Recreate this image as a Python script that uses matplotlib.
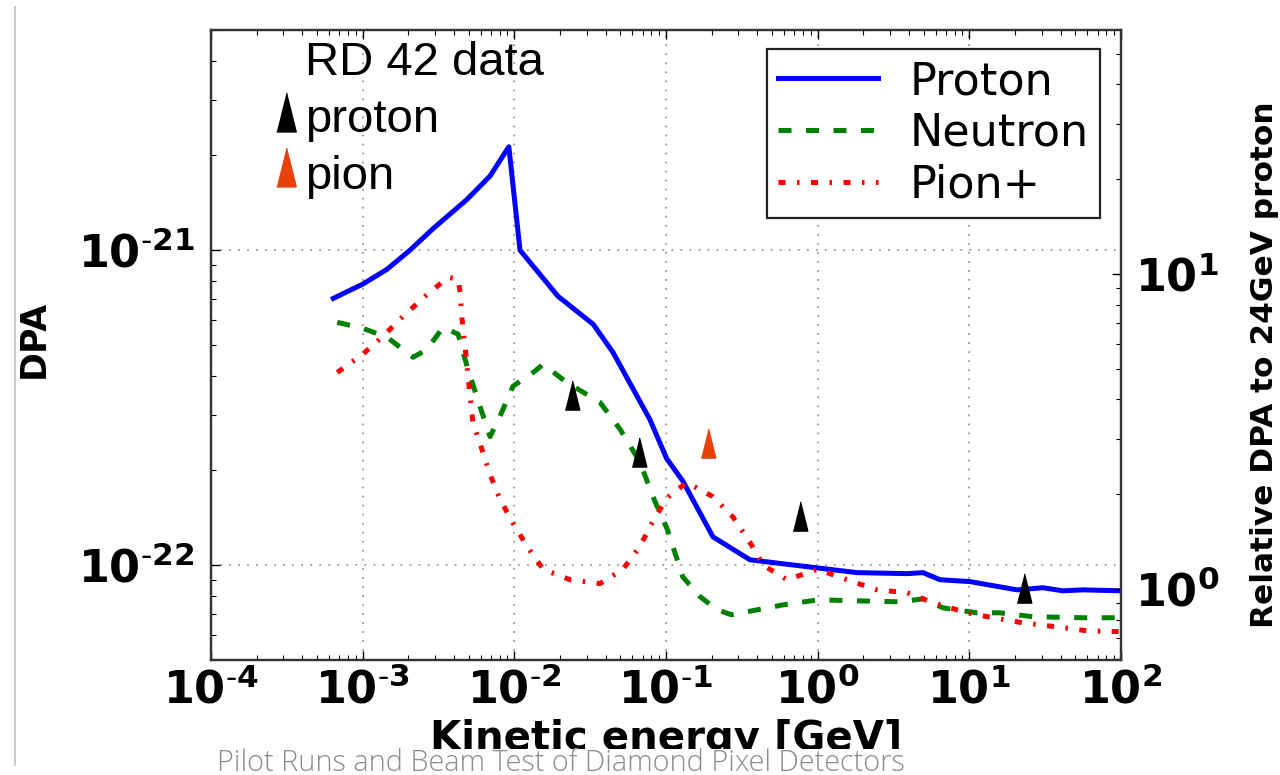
import numpy as np
import matplotlib
matplotlib.use('Agg')
import matplotlib.pyplot as plt
from matplotlib.lines import Line2D
from matplotlib.patches import Rectangle
from matplotlib.ticker import FuncFormatter, LogLocator

plt.rcParams['mathtext.fontset'] = 'dejavusans'
plt.rcParams['xtick.direction'] = 'in'
plt.rcParams['ytick.direction'] = 'in'

# kinetic energy [GeV] vs displacements per atom, per particle type
proton_e = [6.4e-4, 1.0e-3, 1.45e-3, 2.05e-3, 2.91e-3, 4.88e-3, 6.92e-3, 9.2e-3, 1.09e-2,
            1.94e-2, 3.31e-2, 4.47e-2, 7.83e-2, 0.101, 0.129, 0.204, 0.358, 1.0, 1.82,
            3.88, 4.95, 6.41, 10.1, 20.6, 30.6, 41.4, 56.1, 100.0]
proton_dpa = [7.03e-22, 7.8e-22, 8.7e-22, 1.0e-21, 1.17e-21, 1.45e-21, 1.72e-21, 2.13e-21, 1.0e-21,
              7.14e-22, 5.82e-22, 4.74e-22, 2.90e-22, 2.18e-22, 1.85e-22, 1.23e-22, 1.04e-22, 9.8e-23,
              9.47e-23, 9.4e-23, 9.47e-23, 8.99e-23, 8.87e-23, 8.35e-23, 8.48e-23, 8.29e-23, 8.35e-23,
              8.29e-23]

neutron_e = [6.8e-4, 1.0e-3, 1.45e-3, 2.15e-3, 2.65e-3, 3.39e-3, 4.26e-3, 4.88e-3,
             5.94e-3, 6.92e-3, 8.04e-3, 9.8e-3, 1.33e-2, 1.55e-2, 2.22e-2, 3.67e-2,
             4.98e-2, 6.75e-2, 8.2e-2, 0.102, 0.129, 0.168, 0.217, 0.27, 0.59, 1.0,
             3.49, 4.95, 6.7, 11.2, 15.9, 26.3, 56.1, 100.0]
neutron_dpa = [5.90e-22, 5.65e-22, 5.29e-22, 4.57e-22, 4.84e-22, 5.69e-22, 5.41e-22, 4.28e-22,
               3.19e-22, 2.56e-22, 2.97e-22, 3.70e-22, 4.09e-22, 4.34e-22, 3.80e-22, 3.29e-22,
               2.70e-22, 2.12e-22, 1.65e-22, 1.30e-22, 9.18e-23, 7.94e-23, 7.22e-23, 6.96e-23,
               7.48e-23, 7.76e-23, 7.65e-23, 7.82e-23, 7.32e-23, 7.06e-23, 7.06e-23, 6.86e-23,
               6.81e-23, 6.81e-23]

pion_e = [6.8e-4, 1.0e-3, 1.36e-3, 1.85e-3, 2.58e-3, 3.66e-3, 4.26e-3, 4.39e-3, 4.52e-3,
          4.73e-3, 5.11e-3, 5.33e-3, 6.12e-3, 6.92e-3, 8.04e-3, 9.8e-3, 1.21e-2, 1.55e-2,
          2.33e-2, 3.67e-2, 5.2e-2, 6.75e-2, 8.2e-2, 0.102, 0.137, 0.204, 0.277, 0.358,
          0.437, 0.628, 1.0, 1.56, 2.46, 3.88, 5.76, 9.66, 14.3, 22.6, 37.8, 59.7, 100.0]
pion_dpa = [4.09e-22, 4.67e-22, 5.33e-22, 6.17e-22, 7.14e-22, 8.2e-22, 8.09e-22, 7.35e-22, 6.04e-22,
            4.95e-22, 3.44e-22, 2.84e-22, 2.33e-22, 1.94e-22, 1.62e-22, 1.36e-22, 1.15e-22, 9.7e-23,
            8.99e-23, 8.74e-23, 9.7e-23, 1.15e-22, 1.38e-22, 1.64e-22, 1.83e-22, 1.65e-22, 1.42e-22,
            1.18e-22, 1.0e-22, 8.99e-23, 9.7e-23, 8.99e-23, 8.35e-23, 8.18e-23, 7.60e-23, 7.06e-23,
            6.81e-23, 6.56e-23, 6.37e-23, 6.19e-23, 6.15e-23]

# RD42 measurements
rd42_proton_e = [0.024, 0.066, 0.76, 23.0]
rd42_proton_dpa = [3.48e-22, 2.28e-22, 1.43e-22, 8.47e-23]
rd42_pion_e = [0.19]
rd42_pion_dpa = [2.45e-22]

# DPA of a 24 GeV proton, the reference for the right-hand scale
dpa_ref = 8.4e-23

orange = '#e8410c'
tri = [(-0.5, -1.0), (0.5, -1.0), (0.0, 1.0)]


def bold_pow(v, pos):
    e = int(round(np.log10(v)))
    if e < 0:
        return r'$\mathbf{10^{\text{-}%d}}$' % -e
    return r'$\mathbf{10^{%d}}$' % e


fig = plt.figure(figsize=(12.8, 7.75), dpi=100)
ax = fig.add_axes([211 / 1280, 1 - 660 / 775, 910 / 1280, 630 / 775])
ax.set_xscale('log')
ax.set_yscale('log')
ax.set_xlim(1e-4, 1e2)
ax.set_ylim(5e-23, 5e-21)

ax.plot(proton_e, proton_dpa, color='#0000ff', lw=3.6, label='Proton')
ax.plot(neutron_e, neutron_dpa, color='#008000', lw=3.6, dashes=(2.6, 2.9), label='Neutron')
ax.plot(pion_e, pion_dpa, color='#ff0000', lw=3.6, dashes=(1.4, 2.3, 0.5, 2.3), label='Pion+')

ax.plot(rd42_proton_e, rd42_proton_dpa, ls='none', marker=tri, ms=21, color='black')
ax.plot(rd42_pion_e, rd42_pion_dpa, ls='none', marker=tri, ms=21, color=orange)

ax.grid(True, which='major', color='#999999', ls=(0, (1, 4)), lw=1.3)
for s in ax.spines.values():
    s.set_linewidth(1.6)
    s.set_color('#333333')

ax.xaxis.set_major_locator(LogLocator(base=10, numticks=10))
ax.xaxis.set_major_formatter(FuncFormatter(bold_pow))
ax.yaxis.set_major_formatter(FuncFormatter(bold_pow))
ax.tick_params(which='both', top=True, right=False)
ax.tick_params(which='major', length=6.5, width=1, labelsize=32)
ax.tick_params(which='minor', length=3.5, width=0.8)
ax.tick_params(axis='x', pad=6)
ax.tick_params(axis='y', pad=12)

ax.set_xlabel('Kinetic energy [GeV]', fontsize=29, fontweight='bold')
ax.xaxis.set_label_coords(0.5, -0.093)
ax.set_ylabel('DPA', fontsize=25, fontweight='bold')
ax.yaxis.set_label_coords(-0.176, 0.51)

leg = ax.legend(loc='upper right', bbox_to_anchor=(0.977, 0.970), borderaxespad=0,
                fontsize=32, handlelength=2.25, handletextpad=0.72, borderpad=0.25,
                labelspacing=0.2, fancybox=False, framealpha=1)
leg.get_frame().set_edgecolor('#222222')
leg.get_frame().set_linewidth(1.6)

# RD42 key in the upper left corner
txt = dict(family='Liberation Sans', fontsize=34, transform=ax.transAxes, va='baseline')
ax.text(0.1033, 0.9286, 'RD 42 data', **txt)
ax.text(0.1033, 0.838, 'proton', **txt)
ax.text(0.1033, 0.7476, 'pion', **txt)
ax.plot([0.0824], [0.870], ls='none', marker=tri, ms=28, color='black', transform=ax.transAxes)
ax.plot([0.0824], [0.7825], ls='none', marker=tri, ms=28, color=orange, transform=ax.transAxes)

# right-hand scale relative to the 24 GeV proton
ax2 = ax.twinx()
ax2.set_yscale('log')
ax2.set_ylim(5e-23 / dpa_ref, 5e-21 / dpa_ref)
ax2.yaxis.set_major_formatter(FuncFormatter(bold_pow))
ax2.tick_params(which='major', length=6.5, width=1, labelsize=32, pad=10)
ax2.tick_params(which='minor', length=3.5, width=0.8)
ax2.set_ylabel('Relative DPA to 24GeV proton', fontsize=22.5, fontweight='bold')
ax2.yaxis.set_label_coords(1.142, 0.468)
for s in ax2.spines.values():
    s.set_linewidth(1.6)
    s.set_color('#333333')

# slide border and footer strip
fig.add_artist(Line2D([15 / 1280, 15 / 1280], [1 - 7 / 775, 1 - 765 / 775],
                      transform=fig.transFigure, color='#cccccc', lw=1.5))
fig.add_artist(Rectangle((214 / 1280, 0), 694 / 1280, 26 / 775, transform=fig.transFigure,
                         facecolor='white', edgecolor='none', zorder=2))
fig.text(217 / 1280, 4 / 775, 'Pilot Runs and Beam Test of Diamond Pixel Detectors',
         family='Open Sans', fontweight='light', fontsize=20.8, color='#8c8c8c',
         va='baseline', zorder=3)

fig.savefig('out.png', dpi=100)
